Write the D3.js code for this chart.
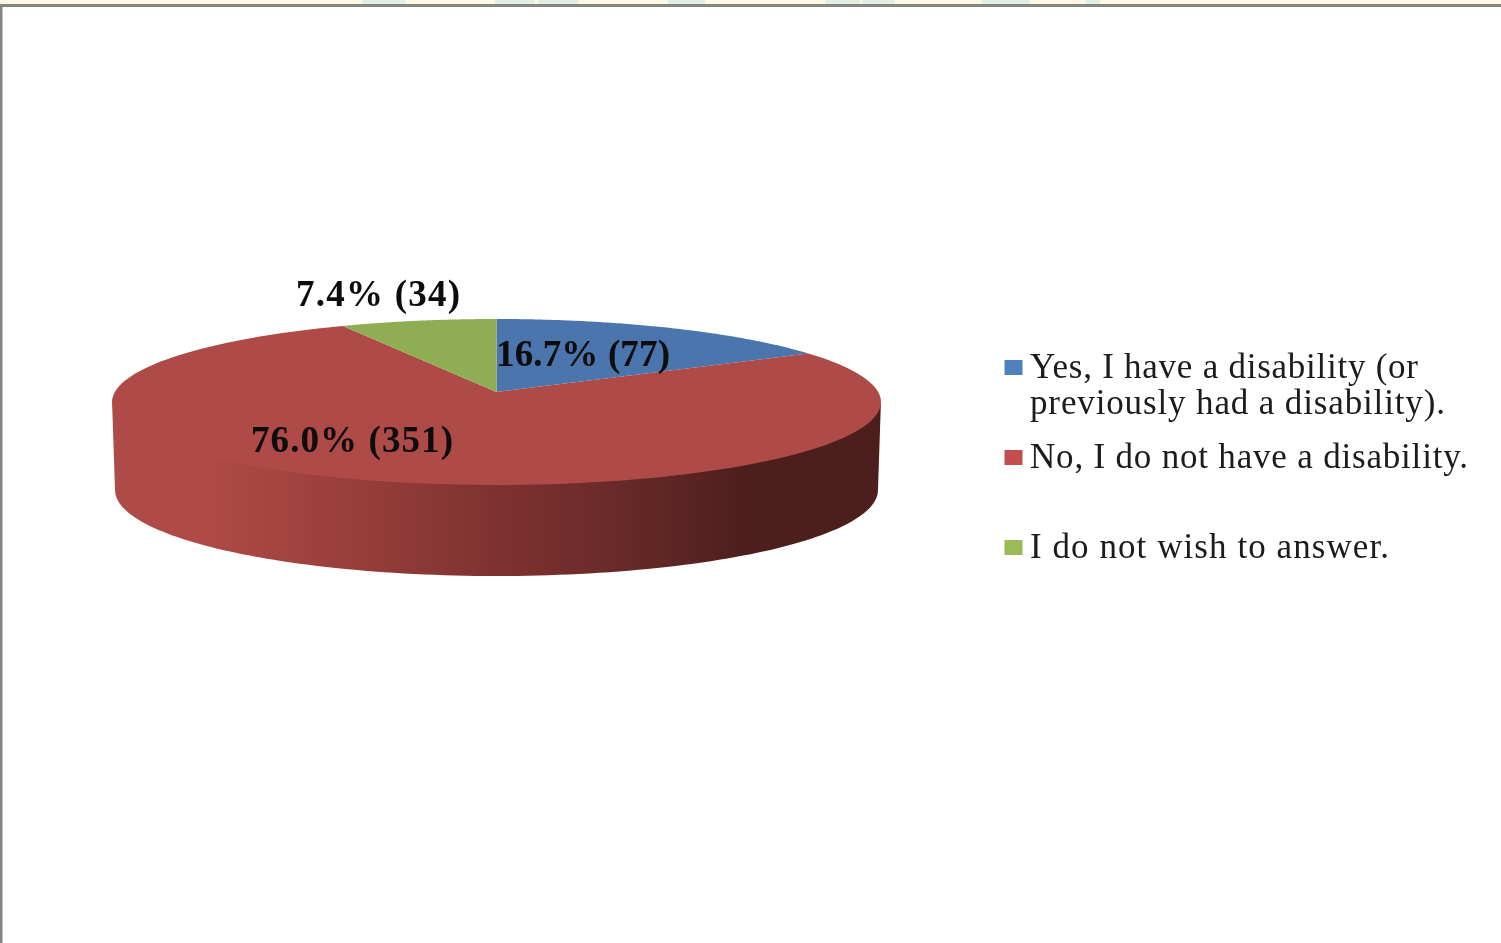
<!DOCTYPE html>
<html><head><meta charset="utf-8">
<script src="https://cdnjs.cloudflare.com/ajax/libs/d3/7.8.5/d3.min.js"></script>
<style>html,body{margin:0;padding:0;background:#fff;overflow:hidden}svg{display:block}</style>
</head><body>
<svg id="c" width="1501" height="943"></svg>
<script>
const categories = ["Yes, I have a disability (or previously had a disability).", "No, I do not have a disability.", "I do not wish to answer."];
const counts = [77, 351, 34];
const percents = ["16.7%", "76.0%", "7.4%"];
const colors = ["#4a76ad", "#ae4a47", "#8fae54"];
const legendColors = ["#4f81bd", "#c0504d", "#9bbb59"];
const legendLines = [["Yes, I have a disability (or", "previously had a disability)."], ["No, I do not have a disability."], ["I do not wish to answer."]];

const svg = d3.select("#c");
const W = 1501, H = 943;
svg.append("rect").attr("width", W).attr("height", H).attr("fill", "#fff");

// top strip and window border
svg.append("rect").attr("width", W).attr("height", 4).attr("fill", "#fdf8e2");
[[362, 43], [495, 40], [538, 40], [668, 37], [825, 35], [862, 33], [982, 48], [1085, 15]].forEach(([x, w]) => {
  svg.append("rect").attr("x", x).attr("width", w).attr("height", 4).attr("fill", "#e2efe4");
});
svg.append("rect").attr("y", 4).attr("width", W).attr("height", 3).attr("fill", "#85857f");
svg.append("rect").attr("y", 4).attr("width", 2.5).attr("height", H).attr("fill", "#85857f");

// projection of a unit disc, with perspective
const cx = 496.5, p = 0.1205;
function proj(s, yc, k) {
  return a => {
    const X = Math.sin(a), Y = Math.cos(a), d = 1 + p * Y;
    return [cx + s * X / d, yc - k * Y / d];
  };
}
const upper = proj(381.7, 392, 81.8);
const wallUpper = proj(381.7, 390, 81.8);
const lower = proj(378.7, 479.7, 84.7);
const pie = d3.pie().sort(null).value(d => d).startAngle(0).endAngle(2 * Math.PI)(counts);
const line = d3.line();
const arcPts = (f, a0, a1) => d3.range(0, 121).map(i => f(a0 + (a1 - a0) * i / 120));

// gradient for the side wall
const defs = svg.append("defs");
const grad = defs.append("linearGradient").attr("id", "wall").attr("gradientUnits", "userSpaceOnUse")
  .attr("x1", 112).attr("x2", 881).attr("y1", 0).attr("y2", 0);
[[0, "#ae4a47"], [0.12, "#ae4a47"], [0.3, "#9a3f3c"], [0.5, "#7e3230"], [0.68, "#652927"], [0.83, "#4c1e1c"], [1, "#4c1e1c"]]
  .forEach(([o, c]) => grad.append("stop").attr("offset", o).attr("stop-color", c));
const blur = defs.append("filter").attr("id", "soft");
blur.append("feGaussianBlur").attr("stdDeviation", 0.45);

// side wall runs between the silhouette points of the disc, tucked slightly under the top face
const rimStart = Math.acos(-p);
const wall = arcPts(wallUpper, rimStart, 2 * Math.PI - rimStart).concat(arcPts(lower, 2 * Math.PI - rimStart, rimStart));
svg.append("path").attr("d", line(wall) + "Z").attr("fill", "url(#wall)");

// top face
svg.selectAll("path.slice").data(pie).join("path").attr("class", "slice")
  .attr("fill", (d, i) => colors[i])
  .attr("d", d => line([[cx, 392]].concat(arcPts(upper, d.startAngle, d.endAngle))) + "Z");

// data labels
const labelPos = [[496, 366], [251, 452], [296, 306]];
const labelWidths = [174, 202, 164];
const labelG = svg.append("g").attr("filter", "url(#soft)");
labelG.selectAll("text").data(counts).join("text")
  .attr("x", (d, i) => labelPos[i][0]).attr("y", (d, i) => labelPos[i][1])
  .attr("textLength", (d, i) => labelWidths[i]).attr("lengthAdjust", "spacing")
  .attr("font-family", "'Liberation Serif', serif")
  .attr("font-weight", "bold").attr("font-size", 37).attr("fill", "#0a0a0a")
  .text((d, i) => `${percents[i]} (${d})`);

// legend
const legendY = [[378, 414], [468], [558]];
const legendWidths = [[388, 415], [438], [359]];
const lg = svg.append("g").attr("filter", "url(#soft)");
categories.forEach((c, i) => {
  lg.append("rect").attr("x", 1004.5).attr("y", legendY[i][0] - 18).attr("width", 18).attr("height", 15).attr("fill", legendColors[i]);
  legendLines[i].forEach((t, j) => {
    lg.append("text").attr("x", 1030).attr("y", legendY[i][j])
      .attr("textLength", legendWidths[i][j]).attr("lengthAdjust", "spacing")
      .attr("font-family", "'Liberation Serif', serif").attr("font-size", 35).attr("fill", "#1a1a1a").text(t);
  });
});
</script>
</body></html>
